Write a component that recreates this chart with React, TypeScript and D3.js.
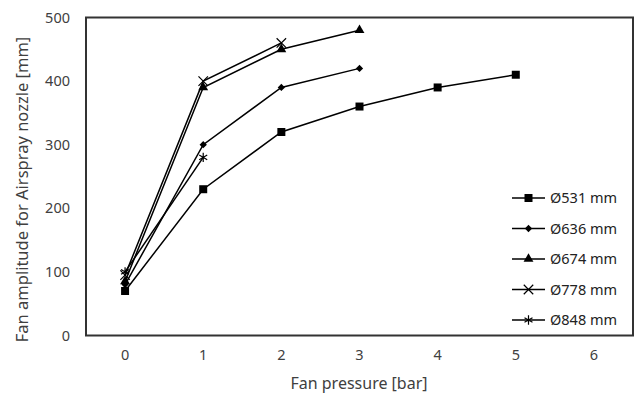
import * as d3 from "d3";
import React from "react";

// Fan pressure [bar] per point, and fan amplitude [mm] per series
const series531 = [70, 230, 320, 360, 390, 410];
const series636 = [80, 300, 390, 420];
const series674 = [85, 390, 450, 480];
const series778 = [95, 400, 460];
const series848 = [100, 280];
const pressures = [0, 1, 2, 3, 4, 5];
const seriesNames = ["Ø531 mm", "Ø636 mm", "Ø674 mm", "Ø778 mm", "Ø848 mm"];
const xTicks = [0, 1, 2, 3, 4, 5, 6];
const yTicks = [0, 100, 200, 300, 400, 500];

const width = 635;
const height = 395;
const marginLeft = 86;
const marginRight = 2;
const marginTop = 17.5;
const marginBottom = 59.5;
const font = "'Noto Sans', 'Open Sans', sans-serif";

const symbols = [
  { type: d3.symbolSquare, size: 64, filled: true },
  { type: d3.symbolDiamond2, size: 34, filled: true },
  { type: d3.symbolTriangle, size: 42, filled: true },
  { type: d3.symbolX, size: 60, filled: false },
  { type: d3.symbolAsterisk, size: 60, filled: false },
];

export default function App() {
  const xScale = d3.scaleLinear([-0.5, 6.5], [marginLeft, width - marginRight]);
  const yScale = d3.scaleLinear([0, 500], [height - marginBottom, marginTop]);
  const allSeries = [series531, series636, series674, series778, series848];
  const line = d3
    .line<number>()
    .x((_, i) => xScale(pressures[i]))
    .y((d) => yScale(d));

  const legendX = 512;
  const legendY = d3.scalePoint<number>([0, 1, 2, 3, 4], [198, 320]);

  const marker = (k: number, cx: number, cy: number, key: string) => {
    const s = symbols[k];
    const path = d3.symbol(s.type, s.size)() ?? "";
    return (
      <path
        key={key}
        d={path}
        transform={`translate(${cx},${cy})`}
        fill={s.filled ? "#000" : "none"}
        stroke="#000"
        strokeWidth={s.filled ? 0 : 1.2}
      />
    );
  };

  return (
    <svg
      width={width}
      height={height}
      style={{ position: "absolute", left: 0, top: 0, background: "#fff" }}
    >
      {/* plot frame */}
      <rect
        x={xScale(-0.5)}
        y={yScale(500)}
        width={xScale(6.5) - xScale(-0.5)}
        height={yScale(0) - yScale(500)}
        fill="none"
        stroke="#333"
        strokeWidth={2}
      />

      {/* y tick labels */}
      {yTicks.map((t) => (
        <text
          key={"y" + t}
          x={70}
          y={yScale(t)}
          dy="0.35em"
          textAnchor="end"
          fontFamily={font}
          fontSize={14.5}
          fill="#404040"
        >
          {t}
        </text>
      ))}

      {/* x tick labels */}
      {xTicks.map((t) => (
        <text
          key={"x" + t}
          x={xScale(t)}
          y={355}
          dy="0.35em"
          textAnchor="middle"
          fontFamily={font}
          fontSize={14.5}
          fill="#404040"
        >
          {t}
        </text>
      ))}

      <text
        x={359}
        y={383}
        dy="0.35em"
        textAnchor="middle"
        fontFamily={font}
        fontSize={16}
        fill="#404040"
      >
        Fan pressure [bar]
      </text>
      <text
        transform={`translate(22,${(yScale(0) + yScale(500)) / 2 + 13}) rotate(-90)`}
        dy="0.35em"
        textAnchor="middle"
        fontFamily={font}
        fontSize={16.5}
        fill="#404040"
      >
        Fan amplitude for Airspray nozzle [mm]
      </text>

      {/* series */}
      {allSeries.map((vals, k) => (
        <g key={"s" + k}>
          <path d={line(vals) ?? ""} fill="none" stroke="#000" strokeWidth={1.5} />
          {vals.map((v, i) => marker(k, xScale(pressures[i]), yScale(v), `m${k}-${i}`))}
        </g>
      ))}

      {/* legend */}
      {seriesNames.map((name, k) => {
        const y = legendY(k) ?? 0;
        return (
          <g key={"l" + k}>
            <line x1={legendX} x2={legendX + 33} y1={y} y2={y} stroke="#000" strokeWidth={1.5} />
            {marker(k, legendX + 16.5, y, "lm" + k)}
            <text
              x={legendX + 38}
              y={y}
              dy="0.35em"
              fontFamily={font}
              fontSize={14.5}
              fill="#222"
            >
              {name}
            </text>
          </g>
        );
      })}
    </svg>
  );
}
